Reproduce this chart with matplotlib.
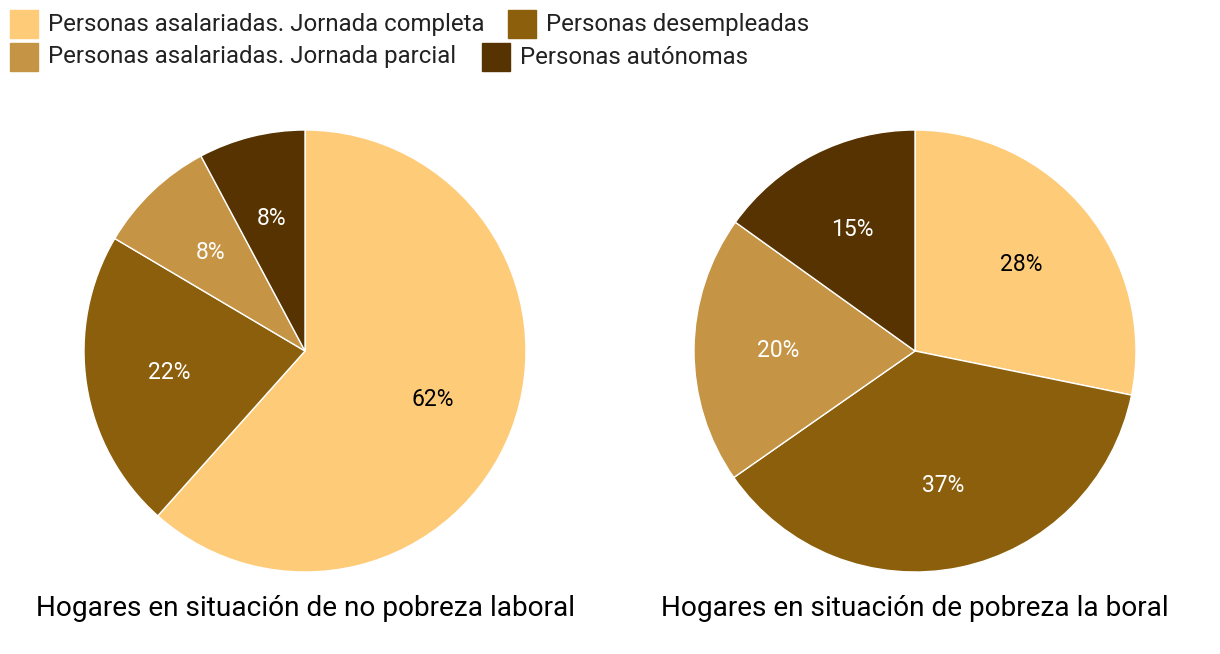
#!/usr/bin/env python3
import matplotlib
matplotlib.use("Agg")
import matplotlib.pyplot as plt
from matplotlib.patches import Rectangle

plt.rcParams['font.family'] = ['Roboto', 'DejaVu Sans']

categories = ["Personas asalariadas. Jornada completa", "Personas desempleadas",
              "Personas asalariadas. Jornada parcial", "Personas autónomas"]
colors = ["#FECB79", "#8B5F0C", "#C59444", "#563300"]
text_colors = ["black", "white", "white", "white"]

no_pobreza = [61.6, 21.9, 8.7, 7.8]
pobreza = [28.2, 37.1, 19.6, 15.1]
no_pobreza_labels = ["62%", "22%", "8%", "8%"]
pobreza_labels = ["28%", "37%", "20%", "15%"]
titles = ["Hogares en situación de no pobreza laboral",
          "Hogares en situación de pobreza la boral"]

W, H = 1220, 654
fig = plt.figure(figsize=(W / 100, H / 100), dpi=100)


def box(x0, y0, x1, y1):
    return [x0 / W, 1 - y1 / H, (x1 - x0) / W, (y1 - y0) / H]


for cx, vals, labs, title in [(305, no_pobreza, no_pobreza_labels, titles[0]),
                              (915, pobreza, pobreza_labels, titles[1])]:
    ax = fig.add_axes(box(cx - 221, 130, cx + 221, 572))
    wedges, texts = ax.pie(vals, colors=colors, startangle=90, counterclock=False,
                           radius=1, labels=labs, labeldistance=0.62,
                           wedgeprops=dict(edgecolor="white", linewidth=1),
                           textprops=dict(fontsize=16.5, ha="center", va="center"))
    for t, c in zip(texts, text_colors):
        t.set_color(c)
    ax.set_xlim(-1, 1)
    ax.set_ylim(-1, 1)
    ax.set_aspect("auto")
    ax.axis("off")
    fig.text(cx / W, 1 - 608 / H, title, ha="center", va="center", fontsize=20.2)

# legend (flow layout)
legend_items = [(10, 24, 0), (508, 24, 1), (10, 57, 2), (482, 57, 3)]
for x, yc, i in legend_items:
    fig.add_artist(Rectangle((x / W, 1 - (yc + 14) / H), 28 / W, 28 / H,
                             transform=fig.transFigure, color=colors[i]))
    fig.text((x + 38) / W, 1 - yc / H, categories[i], ha="left", va="center",
             fontsize=17.3, color="#222222")

fig.savefig("out.png", dpi=100)
